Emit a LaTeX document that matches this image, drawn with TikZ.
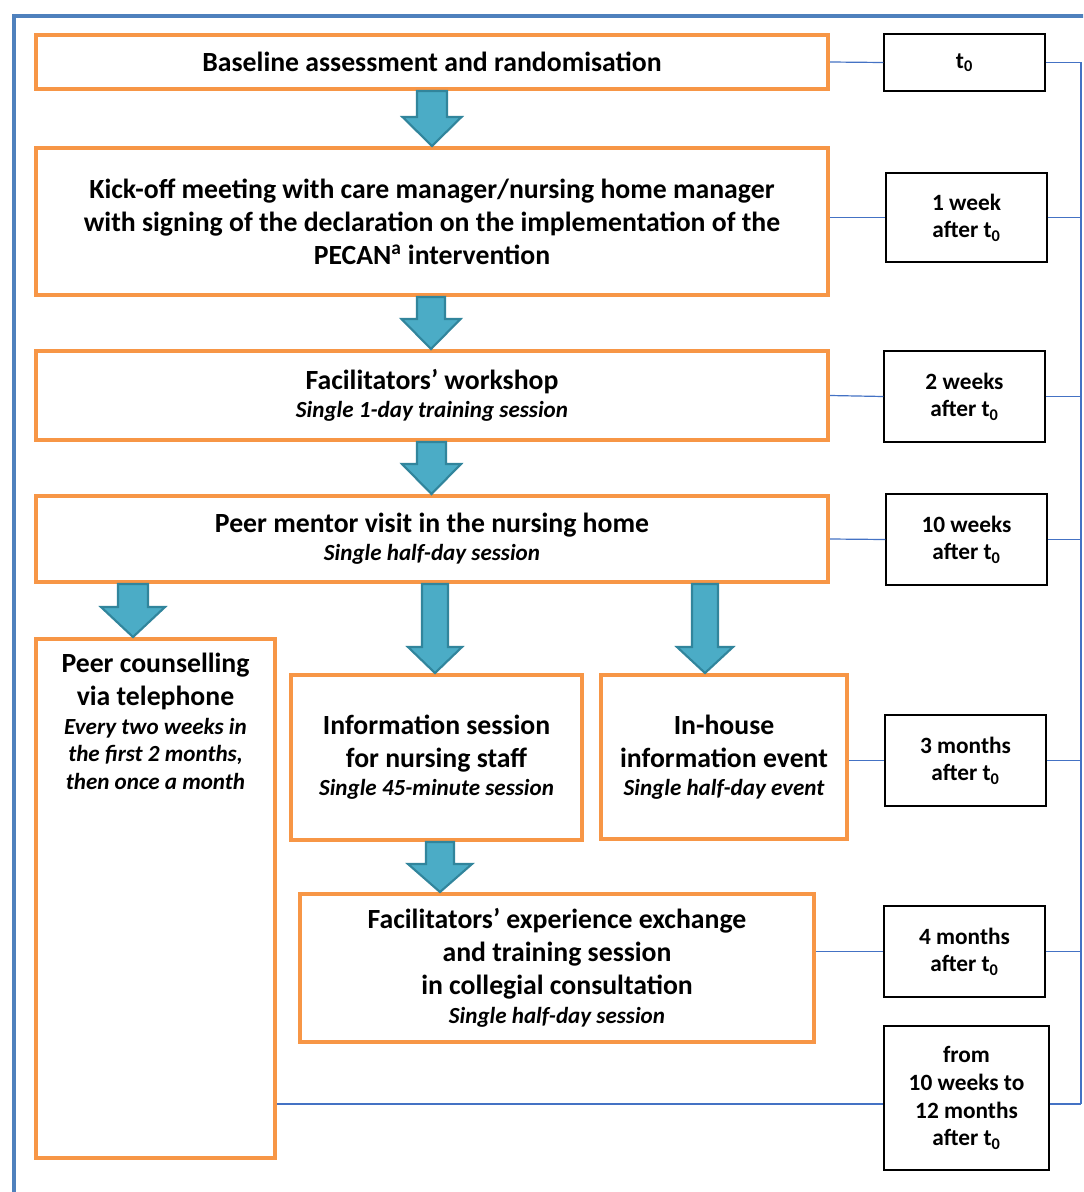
\documentclass[tikz,border=0pt]{standalone}
\usepackage{fontspec}
\setmainfont{Carlito}
\usetikzlibrary{calc}
\definecolor{orng}{HTML}{F79646}
\definecolor{frameblue}{HTML}{4F81BD}
\definecolor{linkblue}{HTML}{4472C4}
\definecolor{arrfill}{HTML}{4BACC6}
\definecolor{arrline}{HTML}{31859C}
\newcommand\titlef{\bfseries\fontsize{20.8}{24.75}\selectfont}
\newcommand\subf{\bfseries\itshape\fontsize{17.3}{20.6}\selectfont}
\newcommand\timef{\bfseries\fontsize{17.5}{20.8}\selectfont}
\newcommand\tnull{t\textsubscript{0}}
% #1 from node, #2 to node, #3 centre x (px), #4 half shaft, #5 half head, #6 head length
\newcommand\blockarr[6]{%
  \path[blockarrow] let \p1=(#1.south), \p2=(#2.north) in
    ({(#3-#4)*0.75pt},\y1) -- ({(#3+#4)*0.75pt},\y1) --
    ({(#3+#4)*0.75pt},{\y2+#6*0.75pt}) -- ({(#3+#5)*0.75pt},{\y2+#6*0.75pt}) --
    ({#3*0.75pt},\y2) --
    ({(#3-#5)*0.75pt},{\y2+#6*0.75pt}) -- ({(#3-#4)*0.75pt},{\y2+#6*0.75pt}) -- cycle;}
\begin{document}
\begin{tikzpicture}[x=0.75pt,y=-0.75pt,
  stagebox/.style={draw=orng, line width=3pt, inner sep=0pt, align=center, font=\titlef},
  timebox/.style={draw=black, line width=1.1pt, inner sep=0pt, align=center, font=\timef},
  link/.style={draw=linkblue, line width=0.9pt},
  blockarrow/.style={fill=arrfill, draw=arrline, line width=1.6pt, line join=miter}]
\useasboundingbox (0,0) rectangle (1083,1192);
\clip (0,0) rectangle (1083,1192);
\fill[white] (0,0) rectangle (1083,1192);
\draw[frameblue, line width=3pt] (14,1210) -- (14,15.5) -- (1100,15.5);

% stage boxes
\node[stagebox, minimum width=594pt, minimum height=40.5pt] (b1) at (432,62) {Baseline assessment and randomisation};
\node[stagebox, minimum width=594pt, minimum height=110.25pt] (b2) at (432,221.5) {Kick-off meeting with care manager/nursing home manager\\with signing of the declaration on the implementation of the\\PECAN\textsuperscript{a} intervention};
\node[stagebox, minimum width=594pt, minimum height=66.75pt] (b3) at (432,395.5) {Facilitators’ workshop\\[-3.5pt]\subf Single 1-day training session};
\node[stagebox, minimum width=594pt, minimum height=64.5pt] (b4) at (432,539) {Peer mentor visit in the nursing home\\[-3.5pt]\subf Single half-day session};
\node[stagebox, minimum width=179.25pt, minimum height=389.25pt] (b5) at (155.5,898.5) {};
\node[align=center, anchor=north, inner sep=0pt, font=\titlef] (b5txt) at (155.5,653) {Peer counselling\\via telephone\\[-3.5pt]\subf Every two weeks in\\[-4.1pt]\subf the first 2 months,\\[-4.1pt]\subf then once a month};
\node[stagebox, minimum width=218.25pt, minimum height=123.75pt] (b6) at (436.5,757.5) {Information session\\for nursing staff\\[-3.5pt]\subf Single 45-minute session};
\node[stagebox, minimum width=184.5pt, minimum height=123pt] (b7) at (724,757) {In-house\\information event\\[-3.5pt]\subf Single half-day event};
\node[stagebox, minimum width=385.5pt, minimum height=111pt] (b8) at (557,968) {Facilitators’ experience exchange\\and training session\\in collegial consultation\\[-3.5pt]\subf Single half-day session};

% time boxes
\node[timebox, minimum width=120.75pt, minimum height=42.75pt] (t1) at (964.5,62.5) {\tnull};
\node[timebox, minimum width=120.75pt, minimum height=66.75pt] (t2) at (966.5,217.5) {1 week\\after \tnull};
\node[timebox, minimum width=120.75pt, minimum height=68.25pt] (t3) at (964.5,396.5) {2 weeks\\after \tnull};
\node[timebox, minimum width=120.75pt, minimum height=68.25pt] (t4) at (966.5,539.5) {10 weeks\\after \tnull};
\node[timebox, minimum width=120.75pt, minimum height=68.25pt] (t5) at (965.5,760.5) {3 months\\after \tnull};
\node[timebox, minimum width=120.75pt, minimum height=68.25pt] (t6) at (964.5,951.5) {4 months\\after \tnull};
\node[timebox, minimum width=123.75pt, minimum height=108pt] (t7) at (966.5,1098) {from\\10 weeks to\\12 months\\after \tnull};

% block arrows
\blockarr{b1}{b2}{432}{15}{29.5}{29}
\blockarr{b2}{b3}{431}{14}{29.5}{30}
\blockarr{b3}{b4}{431.5}{14.5}{29.5}{30}
\blockarr{b4}{b5}{133}{15}{32}{30}
\blockarr{b4}{b6}{435}{13}{27}{26}
\blockarr{b4}{b7}{705}{13}{28}{26}
\blockarr{b6}{b8}{440}{14}{32}{28}

% connectors
\coordinate (spine) at (1081,0);
\coordinate (t7in) at ([yshift=-4.5pt]t7.west);
\coordinate (t7out) at ([yshift=-4.5pt]t7.east);
\draw[link] (b1.east) -- (t1.west);
\draw[link] (t2.west -| b2.east) -- (t2.west);
\draw[link] (b3.east) -- (t3.west);
\draw[link] (b4.east) -- (t4.west);
\draw[link] (t5.west -| b7.east) -- (t5.west);
\draw[link] (t6.west -| b8.east) -- (t6.west);
\draw[link] (t7in -| b5.east) -- (t7in);
\draw[link] (t1.east) -- (t1.east -| spine) -- (t7out -| spine);
\foreach \t in {t2,t3,t4,t5,t6}{\draw[link] (\t.east) -- (\t.east -| spine);}
\draw[link] (t7out) -- (t7out -| spine);
\end{tikzpicture}
\end{document}
